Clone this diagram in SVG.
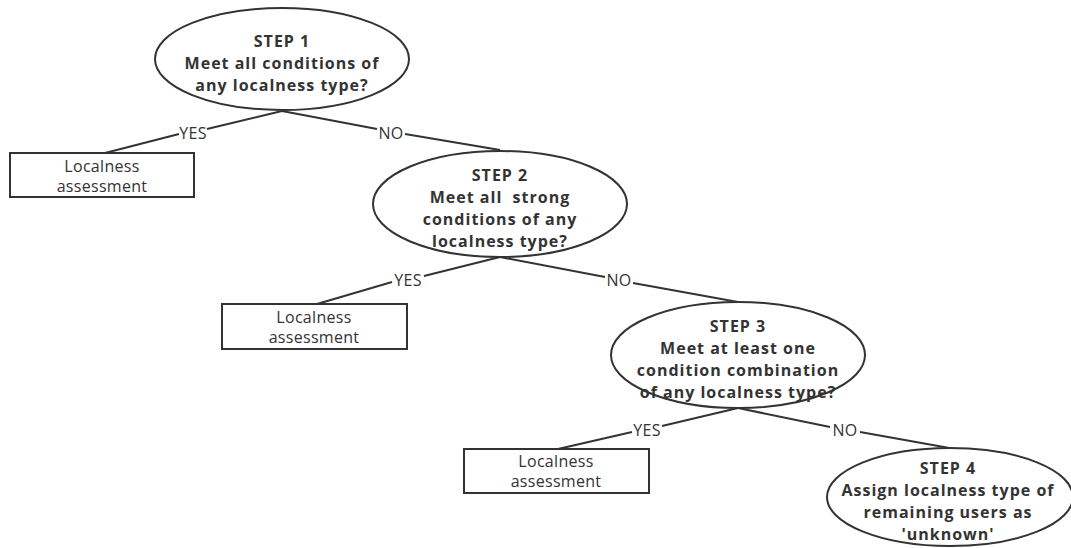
<svg xmlns="http://www.w3.org/2000/svg" width="1071" height="548" viewBox="0 0 1071 548">
<style>
.e{fill:#fff;stroke:#333;stroke-width:2}
.b{fill:#fff;stroke:#333;stroke-width:2}
.c{fill:none;stroke:#333;stroke-width:2}
.t{font-family:"Open Sans","Noto Sans",sans-serif;font-weight:bold;font-size:16px;letter-spacing:1px;fill:#333;text-anchor:middle}
.n{font-family:"Open Sans","Noto Sans",sans-serif;font-size:16px;letter-spacing:0.3px;fill:#333;text-anchor:middle}
</style>
<rect width="1071" height="548" fill="#fff"/>
<g id="connectors">
<path class="c" d="M282,111 L207,129 M179,134 L105,153"/>
<path class="c" d="M282,111 L377,129 M405,134 L500,150"/>
<path class="c" d="M500,257 L424,276 M392,282 L317,304"/>
<path class="c" d="M500,257 L605,277 M633,283 L738,302"/>
<path class="c" d="M738,408 L662,426 M632,432 L558,449"/>
<path class="c" d="M738,408 L830,427 M860,432 L955,449"/>
<text class="n" x="193" y="139">YES</text>
<text class="n" x="391" y="139">NO</text>
<text class="n" x="408" y="286">YES</text>
<text class="n" x="619" y="286">NO</text>
<text class="n" x="647" y="436">YES</text>
<text class="n" x="845" y="436">NO</text>
</g>
<g id="step1">
<ellipse class="e" cx="282" cy="59" rx="127" ry="51"/>
<text class="t" x="282" y="47">STEP 1</text>
<text class="t" x="282" y="69">Meet all conditions of</text>
<text class="t" x="282" y="91">any localness type?</text>
</g>
<g id="box1">
<rect class="b" x="10" y="153" width="184" height="44"/>
<text class="n" x="102" y="172">Localness</text>
<text class="n" x="102" y="192">assessment</text>
</g>
<g id="step2">
<ellipse class="e" cx="500" cy="204" rx="127" ry="53"/>
<text class="t" x="500" y="181">STEP 2</text>
<text class="t" x="500" y="203" xml:space="preserve">Meet all  strong</text>
<text class="t" x="500" y="225">conditions of any</text>
<text class="t" x="500" y="247">localness type?</text>
</g>
<g id="box2">
<rect class="b" x="222" y="304" width="185" height="45"/>
<text class="n" x="314" y="323">Localness</text>
<text class="n" x="314" y="343">assessment</text>
</g>
<g id="step3">
<ellipse class="e" cx="738" cy="355" rx="127" ry="53"/>
<text class="t" x="738" y="332">STEP 3</text>
<text class="t" x="738" y="354">Meet at least one</text>
<text class="t" x="738" y="376">condition combination</text>
<text class="t" x="738" y="398">of any localness type?</text>
</g>
<g id="box3">
<rect class="b" x="464" y="449" width="185" height="44"/>
<text class="n" x="556" y="467">Localness</text>
<text class="n" x="556" y="487">assessment</text>
</g>
<g id="step4">
<ellipse class="e" cx="950" cy="497" rx="123" ry="49"/>
<text class="t" x="948" y="474">STEP 4</text>
<text class="t" x="948" y="496">Assign localness type of</text>
<text class="t" x="948" y="518">remaining users as</text>
<text class="t" x="948" y="540">'unknown'</text>
</g>
</svg>
